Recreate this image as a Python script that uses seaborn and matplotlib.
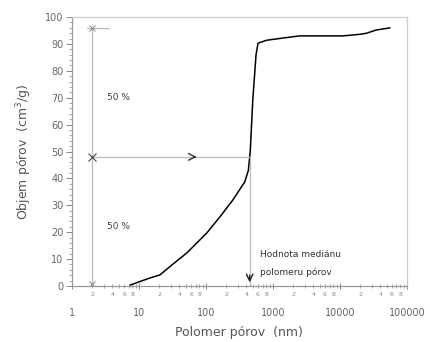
import numpy as np
import pandas as pd
import matplotlib
matplotlib.use("Agg")
import matplotlib.pyplot as plt
import seaborn as sns
from matplotlib.ticker import FixedLocator, FixedFormatter

# data
radius_nm = [7.4, 10, 14, 20.6, 30, 52, 103, 162, 253, 380, 430, 460, 500, 560, 600, 810, 1500, 2500, 5000, 11000, 20000, 25000, 35000, 56000]
volume = [0.3, 1.5, 2.8, 4.1, 7.5, 12.3, 19.7, 25.7, 32.0, 38.7, 43.0, 50.5, 69.0, 86.0, 90.3, 91.4, 92.3, 93.0, 93.0, 93.0, 93.6, 94.0, 95.2, 96.0]

median_x = 450
half_y = 48
top_y = 96
left_x = 2

x_major = [1, 10, 100, 1000, 10000, 100000]
x_major_labels = ["1", "10", "100", "1000", "10000", "100000"]

df = pd.DataFrame({"r": radius_nm, "v": volume})

sns.set_theme(style="white")
plt.rcParams['font.family'] = ['DejaVu Sans']

fig = plt.figure(figsize=(4.31, 3.42), dpi=100)
ax = fig.add_axes([0.167, 0.164, 0.777, 0.786])

sns.lineplot(data=df, x="r", y="v", ax=ax, color="black", lw=1.1)

ax.set_xscale("log")
ax.set_xlim(1, 100000)
ax.set_ylim(0, 100)

grey = "#888888"
lgrey = "#bbbbbb"

# annotation lines
ax.plot([left_x, left_x], [0, top_y], color=lgrey, lw=0.9)
ax.plot([1.7, 3.6], [top_y, top_y], color=lgrey, lw=0.9)
ax.plot([left_x, median_x], [half_y, half_y], color=lgrey, lw=0.9)
ax.plot([median_x, median_x], [half_y, 0], color=lgrey, lw=0.9)
# arrow heads
ax.plot([left_x], [top_y], marker="x", color=grey, ms=5, mew=0.7)
ax.plot([left_x], [half_y], marker="x", color="#444444", ms=6, mew=0.8)
ax.plot([left_x], [0.8], marker="x", color=grey, ms=5, mew=0.7)
ax.annotate("", xy=(80, half_y), xytext=(60, half_y),
            arrowprops=dict(arrowstyle="->", color="#333333", lw=1.0))
ax.annotate("", xy=(median_x, 0.3), xytext=(median_x, 5),
            arrowprops=dict(arrowstyle="->", color="#222222", lw=1.0))

ax.text(3.3, 70, "50 %", fontsize=6.5, color="#444444", va="center")
ax.text(3.3, 22, "50 %", fontsize=6.5, color="#444444", va="center")
ax.text(640, 11.5, "Hodnota mediánu", fontsize=6.5, color="#333333", va="center")
ax.text(640, 5.0, "polomeru pórov", fontsize=6.5, color="#333333", va="center")

# ticks
ax.set_yticks(np.arange(0, 101, 10))
ax.yaxis.set_minor_locator(FixedLocator(np.arange(0, 101, 2)))
ax.tick_params(axis="y", which="major", length=4, width=0.7, color=grey, labelsize=7, labelcolor="#666666", pad=2, left=True)
ax.tick_params(axis="y", which="minor", length=2, width=0.5, color=grey, left=True)

ax.xaxis.set_major_locator(FixedLocator(x_major))
ax.xaxis.set_major_formatter(FixedFormatter(x_major_labels))
minor_pos = []
minor_lab = []
for d in [1, 10, 100, 1000, 10000]:
    for m in range(2, 10):
        minor_pos.append(d * m)
        minor_lab.append(str(m) if m in (2, 4, 6, 8) else "")
ax.xaxis.set_minor_locator(FixedLocator(minor_pos))
ax.xaxis.set_minor_formatter(FixedFormatter(minor_lab))
ax.tick_params(axis="x", which="major", length=4, width=0.7, color=grey, labelsize=7, labelcolor="#666666", pad=14, bottom=True, direction="inout")
ax.tick_params(axis="x", which="minor", length=3, width=0.5, color=grey, labelsize=4.5, labelcolor="#888888", pad=3, bottom=True, direction="inout")

for s in ["top", "right"]:
    ax.spines[s].set_color("#cccccc")
    ax.spines[s].set_linewidth(0.9)
for s in ["left", "bottom"]:
    ax.spines[s].set_color("#999999")
    ax.spines[s].set_linewidth(0.9)

ax.set_xlabel("Polomer pórov  (nm)", fontsize=9, color="#555555", labelpad=6)
ax.set_ylabel("Objem pórov  (cm$^3$/g)", fontsize=9, color="#555555", labelpad=8)

fig.savefig("out.png", dpi=100, facecolor="white")
